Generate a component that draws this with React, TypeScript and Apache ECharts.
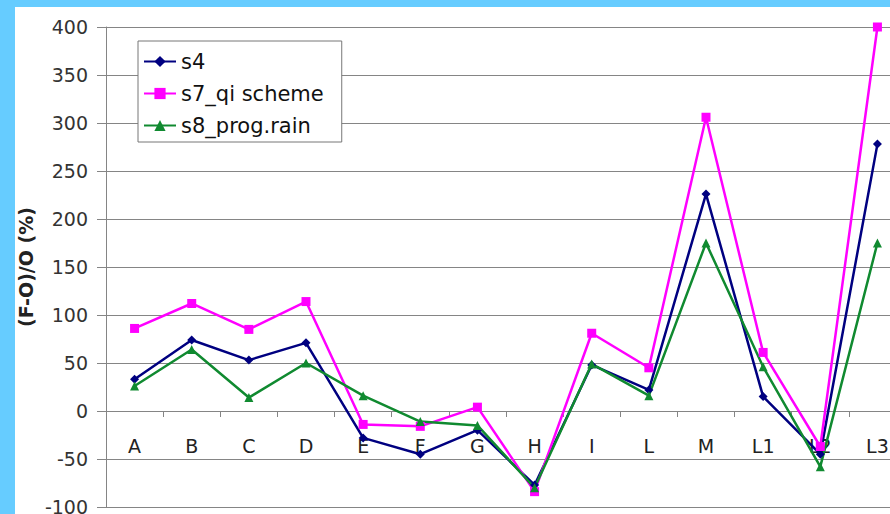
import React, { useEffect, useRef } from "react";
import * as echarts from "echarts";

// Stations along the x axis
const categories = ["A", "B", "C", "D", "E", "F", "G", "H", "I", "L", "M", "L1", "L2", "L3"];

// Relative error (F-O)/O in percent for each model run
const s4 = [33, 74, 53, 71, -28, -45, -20, -77, 48, 22, 226, 15, -45, 278];
const s7QiScheme = [86, 112, 85, 114, -14, -16, 4, -84, 81, 45, 306, 61, -37, 400];
const s8ProgRain = [26, 64, 14, 50, 16, -11, -15, -80, 49, 16, 175, 46, -58, 175];

const seriesNames = ["s4", "s7_qi scheme", "s8_prog.rain"];

const Y_MIN = -100;
const Y_MAX = 400;

const FONT = "DejaVu Sans";
const GRID_GREY = "#858585";
const PLOT_HEIGHT = 480;

// The category axis crosses the value axis at zero
const zeroOffset = -(PLOT_HEIGHT * (0 - Y_MIN)) / (Y_MAX - Y_MIN);

export default function App() {
  const ref = useRef<HTMLDivElement>(null);

  useEffect(() => {
    if (!ref.current) return;
    const chart = echarts.init(ref.current, undefined, { renderer: "svg" });
    chart.setOption({
      animation: false,
      backgroundColor: "#ffffff",
      textStyle: { fontFamily: FONT },
      grid: {
        left: 91,
        top: 20,
        width: 800,
        height: PLOT_HEIGHT,
        containLabel: false,
        outerBoundsMode: "none",
      },
      legend: {
        orient: "vertical",
        left: 123,
        top: 34,
        itemWidth: 32,
        itemHeight: 14,
        itemGap: 11,
        padding: [10, 18, 6, 5],
        borderColor: "#777777",
        borderWidth: 1,
        backgroundColor: "#ffffff",
        textStyle: { fontFamily: FONT, fontSize: 21, color: "#111111" },
        data: seriesNames,
      },
      xAxis: {
        type: "category",
        data: categories,
        boundaryGap: true,
        position: "bottom",
        offset: zeroOffset,
        axisLine: {
          onZero: false,
          lineStyle: { color: GRID_GREY, width: 1 },
        },
        axisTick: { show: true, inside: false, length: 6, lineStyle: { color: GRID_GREY } },
        axisLabel: { interval: 0, margin: 25, fontSize: 19, color: "#222222", fontFamily: FONT },
        splitLine: { show: false },
      },
      yAxis: {
        type: "value",
        min: Y_MIN,
        max: Y_MAX,
        interval: 50,
        name: "(F-O)/O (%)",
        nameLocation: "middle",
        nameRotate: 90,
        nameGap: 71,
        nameMoveOverlap: false,
        nameTextStyle: { fontFamily: FONT, fontSize: 19, fontWeight: "bold", color: "#222222" },
        axisLine: { show: true, onZero: false, lineStyle: { color: GRID_GREY, width: 1 } },
        axisTick: { show: true, inside: false, length: 9, lineStyle: { color: GRID_GREY } },
        axisLabel: { margin: 18, fontSize: 19, color: "#333333", fontFamily: FONT },
        splitLine: { show: true, lineStyle: { color: GRID_GREY, width: 1 } },
      },
      series: [
        {
          name: seriesNames[0],
          type: "line",
          data: s4,
          symbol: "diamond",
          symbolSize: 9,
          color: "#000080",
          lineStyle: { width: 2.5, color: "#000080" },
        },
        {
          name: seriesNames[1],
          type: "line",
          data: s7QiScheme,
          symbol: "rect",
          symbolSize: 9,
          color: "#ff00ff",
          lineStyle: { width: 2.5, color: "#ff00ff" },
        },
        {
          name: seriesNames[2],
          type: "line",
          data: s8ProgRain,
          symbol: "triangle",
          symbolSize: 9,
          color: "#108a30",
          lineStyle: { width: 2.5, color: "#108a30" },
        },
      ],
    });
    return () => chart.dispose();
  }, []);

  return (
    <div
      style={{
        position: "fixed",
        left: 0,
        top: 0,
        width: 890,
        height: 514,
        background: "#66ccff",
        overflow: "hidden",
      }}
    >
      <div
        ref={ref}
        style={{ position: "absolute", left: 15, top: 7, width: 875, height: 507, background: "#ffffff" }}
      />
    </div>
  );
}
